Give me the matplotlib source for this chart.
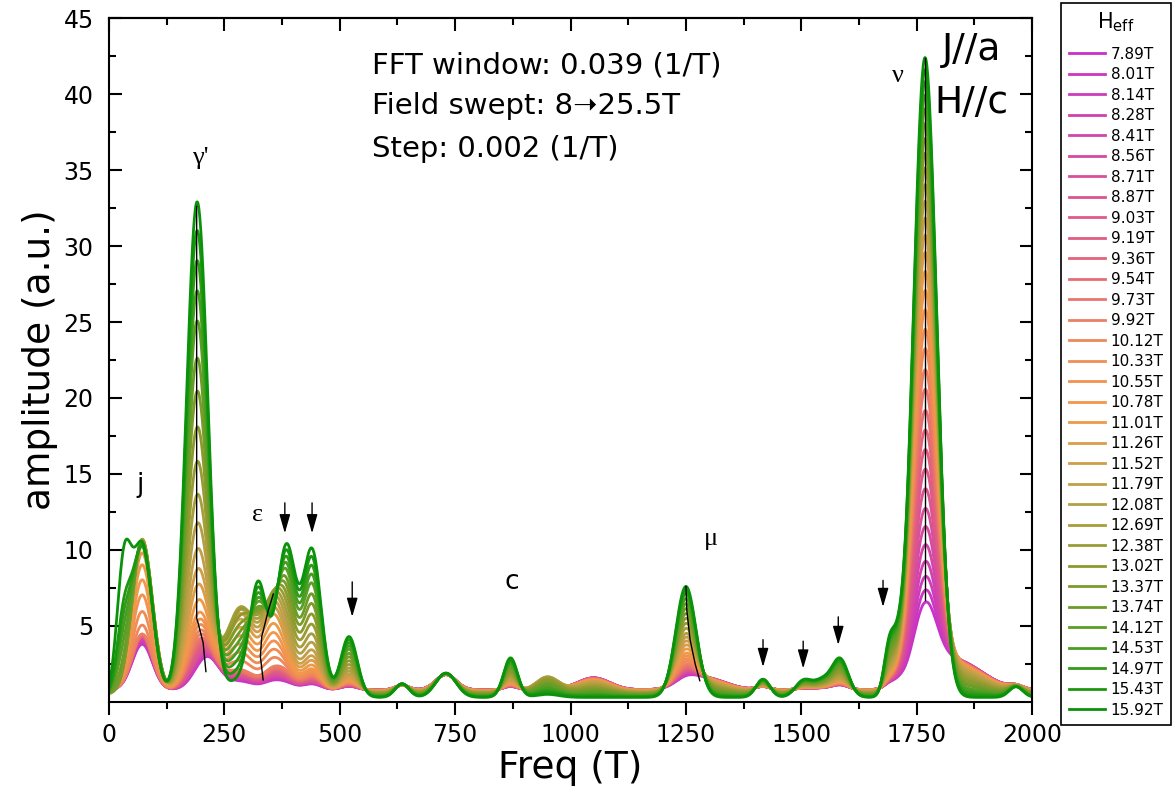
import numpy as np
import matplotlib.pyplot as plt
from matplotlib.colors import LinearSegmentedColormap

plt.rcParams['font.family'] = ['DejaVu Sans']

fields = ["7.89T", "8.01T", "8.14T", "8.28T", "8.41T", "8.56T", "8.71T", "8.87T",
          "9.03T", "9.19T", "9.36T", "9.54T", "9.73T", "9.92T", "10.12T", "10.33T",
          "10.55T", "10.78T", "11.01T", "11.26T", "11.52T", "11.79T", "12.08T", "12.69T",
          "12.38T", "13.02T", "13.37T", "13.74T", "14.12T", "14.53T", "14.97T", "15.43T",
          "15.92T"]

# peak heights read per curve (lowest field first)
nu_amp = [4.6, 5.4, 6.3, 7.3, 8.4, 9.6, 10.8, 12.1, 13.4, 14.7, 16.0, 17.3, 18.7, 20.0,
          21.4, 22.7, 24.0, 25.3, 26.6, 27.9, 29.1, 30.3, 31.5, 32.7, 33.9, 35.0, 36.1,
          37.2, 38.3, 39.3, 40.3, 41.2, 42.1]
gamma_amp = [0.3, 0.4, 0.5, 0.6, 0.7, 0.8, 0.9, 1.0, 1.2, 1.4, 1.6, 1.8, 2.0, 2.3, 2.6,
             3.0, 3.4, 3.9, 4.8, 5.9, 7.0, 8.4, 10.2, 12.2, 14.5, 16.9, 19.4, 21.7, 24.3,
             26.4, 28.5, 30.6, 32.6]
j_amp = [3.0, 3.1, 3.2, 3.3, 3.4, 3.4, 3.5, 3.5, 3.5, 3.6, 3.6, 3.6, 3.7, 3.7, 4.3, 5.2,
         6.3, 7.3, 8.3, 9.1, 9.6, 9.9, 10.0, 10.1, 10.1, 10.1, 10.1, 10.0, 10.0, 9.9, 9.9,
         9.8, 10.0]
lowf_amp = [0.0] * 27 + [0.8, 1.8, 2.8, 3.7, 4.6, 8.0]
mu_amp = [0.4, 0.45, 0.5, 0.55, 0.6, 0.65, 0.7, 0.75, 0.8, 0.85, 0.9, 1.0, 1.1, 1.2, 1.4,
          1.6, 1.8, 2.0, 2.3, 2.6, 2.9, 3.2, 3.5, 3.9, 4.3, 4.7, 5.1, 5.5, 5.9, 6.3, 6.7,
          7.0, 7.3]
mid_w = [0.10, 0.11, 0.12, 0.13, 0.14, 0.15, 0.16, 0.17, 0.18, 0.19, 0.20, 0.21, 0.22,
         0.24, 0.35, 0.45, 0.55, 0.65, 0.75, 0.85, 0.92, 0.97, 1.0, 1.0, 0.97, 0.9, 0.8,
         0.7, 0.6, 0.5, 0.4, 0.3, 0.2]

# mid-field structures: centre, width, height
mid_c = [285, 354, 950]
mid_s = [30, 20, 25]
mid_h = [5.5, 4.8, 1.0]

# minor peaks: centre, width, height at lowest / highest field, growth power
minor_c = [215, 323, 385, 440, 520, 635, 730, 870, 1050, 1290, 1417, 1505, 1545, 1584,
           1692, 1712, 1830, 1965]
minor_s = [25, 18, 20, 20, 18, 15, 22, 15, 35, 45, 15, 18, 18, 18, 12, 10, 60, 15]
minor_lo = [2.0, 0.0, 0.3, 0.3, 0.2, 0.3, 1.0, 0.2, 0.8, 0.8, 0.2, 0.1, 0.1, 0.3, 0.3,
            0.2, 2.0, 0.2]
minor_hi = [0.0, 6.8, 9.6, 9.6, 4.0, 0.9, 1.6, 2.6, 0.0, 0.0, 1.2, 1.1, 1.0, 2.5, 3.6,
            1.5, 0.0, 0.7]
minor_p = [1, 2, 1, 1, 1, 1, 1, 1, 1, 1, 1, 1, 1, 1, 1, 1, 1, 1]

# black traces following peak tops
gam_tr_x = [190, 190, 193, 204, 210]
gam_tr_y = [32.6, 5.5, 5.2, 3.9, 2.0]
eps_tr_x = [356, 345, 331, 328, 334]
eps_tr_y = [7.1, 6.0, 4.3, 3.0, 1.45]
mu_tr_x = [1250, 1252, 1259, 1270, 1280]
mu_tr_y = [7.6, 6.0, 4.1, 2.5, 1.4]
nu_tr_x = [1768, 1768]
nu_tr_y = [42.4, 6.7]

# arrows
arr_x = [381, 440, 527, 1417, 1504, 1580, 1677]
arr_top = [13.1, 13.1, 7.9, 4.1, 4.0, 5.6, 8.0]
arr_tip = [11.1, 11.1, 5.6, 2.3, 2.2, 3.75, 6.25]

freq = np.linspace(0, 2000, 2001)


def g(c, s):
    return np.exp(-0.5 * ((freq - c) / s) ** 2)


cmap = LinearSegmentedColormap.from_list(
    "fld", [(0.0, "#c832c8"), (0.3, "#e2607e"), (0.45, "#f08a58"), (0.55, "#f29a48"),
            (0.68, "#b8a048"), (0.78, "#8e9a2c"), (0.9, "#4ea024"), (1.0, "#0a930a")])
n = len(fields)
colors = [cmap(i / (n - 1)) for i in range(n)]

fig = plt.figure(figsize=(11.73, 8.05), dpi=100)
ax = fig.add_axes([0.0929, 0.128, 0.787, 0.8496])

growth = np.array(gamma_amp) / gamma_amp[-1]
for i in range(n):
    gr = growth[i]
    y = (0.8 - 0.5 * gr) * np.ones_like(freq)
    y += j_amp[i] * g(72, 22) + lowf_amp[i] * g(32, 15)
    y += gamma_amp[i] * g(191, 23)
    for c, s, h in zip(mid_c, mid_s, mid_h):
        y += mid_w[i] * h * g(c, s)
    for c, s, lo, hi, p in zip(minor_c, minor_s, minor_lo, minor_hi, minor_p):
        y += (lo + (hi - lo) * gr ** p) * g(c, s)
    y += mu_amp[i] * g(1250, 22)
    y += nu_amp[i] * g(1768, 25)
    ax.plot(freq, y, color=colors[i], lw=2, label=fields[i])

for tx, ty in [(gam_tr_x, gam_tr_y), (eps_tr_x, eps_tr_y), (mu_tr_x, mu_tr_y),
               (nu_tr_x, nu_tr_y)]:
    ax.plot(tx, ty, color="k", lw=1)

for x, t0, t1 in zip(arr_x, arr_top, arr_tip):
    ax.annotate("", xy=(x, t1), xytext=(x, t0),
                arrowprops=dict(arrowstyle="-|>,head_length=1.15,head_width=0.33",
                                color="k", lw=1, mutation_scale=10,
                                shrinkA=0, shrinkB=0))

serif = ['Liberation Serif', 'DejaVu Serif']
ax.text(197, 35.8, "γ'", fontsize=19, family=serif, ha="center", va="center")
ax.text(67, 14.3, "j", fontsize=19, ha="center", va="center")
ax.text(321, 12.3, "ε", fontsize=19, family=serif, ha="center", va="center")
ax.text(873, 7.9, "c", fontsize=19, ha="center", va="center")
ax.text(1304, 10.7, "μ", fontsize=19, family=serif, ha="center", va="center")
ax.text(1710, 41.2, "ν", fontsize=19, family=serif, ha="center", va="center")

ax.text(570, 41.9, "FFT window: 0.039 (1/T)", fontsize=21, va="center")
ax.text(570, 39.2, "Field swept: 8➝25.5T", fontsize=21, va="center")
ax.text(570, 36.4, "Step: 0.002 (1/T)", fontsize=21, va="center")
ax.text(1868, 42.9, "J//a", fontsize=27, ha="center", va="center")
ax.text(1868, 39.4, "H//c", fontsize=27, ha="center", va="center")

ax.set_xlim(0, 2000)
ax.set_ylim(0, 45)
ax.set_xticks([0, 250, 500, 750, 1000, 1250, 1500, 1750, 2000])
ax.set_xticks(np.arange(125, 2000, 250), minor=True)
ax.set_yticks([5, 10, 15, 20, 25, 30, 35, 40, 45])
ax.set_yticks(np.arange(2.5, 45, 5), minor=True)
ax.tick_params(which="both", labelsize=17, width=1.5, right=True)
ax.tick_params(axis="y", which="both", direction="in", pad=11)
ax.tick_params(axis="x", which="both", direction="out", top=False, pad=6)
ax.tick_params(which="major", length=9)
ax.tick_params(which="minor", length=5)
for sp in ax.spines.values():
    sp.set_linewidth(1.5)

# top ticks pointing inward
ax2 = ax.secondary_xaxis("top")
ax2.set_xticks([0, 250, 500, 750, 1000, 1250, 1500, 1750, 2000])
ax2.set_xticks(np.arange(125, 2000, 250), minor=True)
ax2.tick_params(which="both", direction="in", labeltop=False, width=1.5)
ax2.tick_params(which="major", length=9)
ax2.tick_params(which="minor", length=5)
ax2.spines["top"].set_linewidth(1.5)

ax.set_xlabel("Freq (T)", fontsize=27, labelpad=2)
ax.set_ylabel("amplitude (a.u.)", fontsize=27, labelpad=4)

leg = fig.legend(loc="upper left", bbox_to_anchor=(1061 / 1173, 1 - 3 / 805),
                 fontsize=11, title=r"H$_{\rm eff}$", title_fontsize=15,
                 frameon=True, fancybox=False, framealpha=1, edgecolor="k",
                 handlelength=2.4, labelspacing=0.36, borderpad=0.5,
                 handletextpad=0.35, borderaxespad=0)
leg._legend_box.sep = 9
leg.get_frame().set_linewidth(1.2)

fig.savefig("out.png", dpi=100)
